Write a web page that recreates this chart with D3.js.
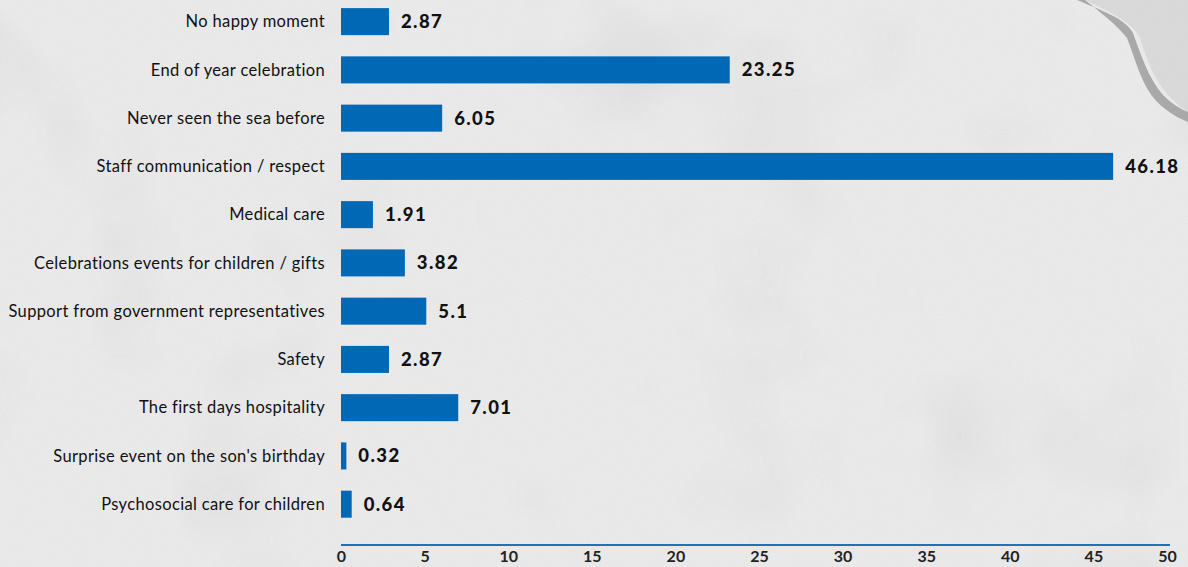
<!DOCTYPE html>
<html>
<head>
<meta charset="utf-8">
<script src="https://cdn.jsdelivr.net/npm/d3@7"></script>
<style>
  html, body { margin: 0; padding: 0; background: #e8e8e8; }
  svg { display: block; }
</style>
</head>
<body>
<svg id="chart" width="1188" height="567"></svg>
<script>
const categories = [
  "No happy moment",
  "End of year celebration",
  "Never seen the sea before",
  "Staff communication / respect",
  "Medical care",
  "Celebrations events for children / gifts",
  "Support from government representatives",
  "Safety",
  "The first days hospitality",
  "Surprise event on the son's birthday",
  "Psychosocial care for children"
];
const values = [2.87, 23.25, 6.05, 46.18, 1.91, 3.82, 5.1, 2.87, 7.01, 0.32, 0.64];
const valueLabels = ["2.87", "23.25", "6.05", "46.18", "1.91", "3.82", "5.1", "2.87", "7.01", "0.32", "0.64"];
const xTicks = [0, 5, 10, 15, 20, 25, 30, 35, 40, 45, 50];

const W = 1188, H = 567;
const svg = d3.select("#chart");

// textured grey background
const defs = svg.append("defs");
const f = defs.append("filter").attr("id", "tex").attr("x", 0).attr("y", 0).attr("width", "100%").attr("height", "100%");
f.append("feTurbulence").attr("type", "fractalNoise").attr("baseFrequency", 0.9).attr("numOctaves", 2).attr("seed", 3).attr("result", "n");
f.append("feColorMatrix").attr("type", "matrix")
  .attr("values", "0 0 0 0 0.5  0 0 0 0 0.5  0 0 0 0 0.5  0 0 0 0.35 0");
const f2 = defs.append("filter").attr("id", "blot").attr("x", 0).attr("y", 0).attr("width", "100%").attr("height", "100%");
f2.append("feTurbulence").attr("type", "fractalNoise").attr("baseFrequency", 0.006).attr("numOctaves", 3).attr("seed", 7);
f2.append("feColorMatrix").attr("type", "matrix")
  .attr("values", "0 0 0 0 0.55  0 0 0 0 0.55  0 0 0 0 0.55  0 0 0 -1.2 0.55");

svg.append("rect").attr("width", W).attr("height", H).attr("fill", "#ececec");
svg.append("rect").attr("width", W).attr("height", H).attr("filter", "url(#blot)").attr("opacity", 0.6);
svg.append("rect").attr("width", W).attr("height", H).attr("filter", "url(#tex)").attr("opacity", 0.4);
// darker area right of the crack
svg.append("path")
  .attr("d", "M1085,0 C1110,12 1132,22 1140,38 C1146,58 1155,82 1170,97 C1178,105 1184,110 1188,111 L1188,0 Z")
  .attr("fill", "#d2d2d2").attr("opacity", 0.7);
// dark crack at top right
svg.append("path")
  .attr("d", "M1077,0 C1100,10 1125,18 1133,33 C1140,52 1148,78 1163,95 C1172,104 1182,110 1188,112 L1188,122 C1178,118 1163,110 1152,96 C1140,80 1134,55 1127,38 C1118,26 1100,12 1085,0 Z")
  .attr("fill", "#9e9e9e").attr("opacity", 0.85);

const x = d3.scaleLinear().domain([0, 50]).range([341, 1177]);
const y = d3.scaleBand().domain(categories).range([-2.5, 528.3]).paddingInner(0.44).paddingOuter(0.22);

const data = categories.map((c, i) => ({ c, v: values[i], l: valueLabels[i] }));

svg.append("g").selectAll("rect").data(data).join("rect")
  .attr("x", x(0))
  .attr("y", d => y(d.c))
  .attr("width", d => x(d.v) - x(0))
  .attr("height", y.bandwidth())
  .attr("fill", "#0068b5");

svg.append("g").selectAll("text").data(data).join("text")
  .attr("x", 325)
  .attr("y", d => y(d.c) + y.bandwidth() / 2)
  .attr("dy", "0.35em")
  .attr("text-anchor", "end")
  .attr("font-family", "Lato, 'Open Sans', sans-serif")
  .attr("font-size", 16.5)
  .attr("letter-spacing", 0.35)
  .attr("fill", "#111")
  .text(d => d.c);

svg.append("g").selectAll("text").data(data).join("text")
  .attr("x", d => x(d.v) + 12)
  .attr("y", d => y(d.c) + y.bandwidth() / 2)
  .attr("dy", "0.35em")
  .attr("font-family", "Lato, 'Open Sans', sans-serif")
  .attr("font-weight", "900")
  .attr("font-size", 18.5)
  .attr("letter-spacing", 1.4)
  .attr("fill", "#111")
  .text(d => d.l);

const axis = d3.axisBottom(x).tickValues(xTicks).tickSize(0).tickPadding(6).tickFormat(d3.format("d"));
const gx = svg.append("g").attr("transform", "translate(0,545)").call(axis);
gx.select(".domain").attr("stroke", "#1a73bf").attr("stroke-width", 2).attr("d", `M${x(0)},0H1170`);
gx.selectAll("text")
  .attr("font-family", "Lato, 'Open Sans', sans-serif")
  .attr("font-weight", "bold")
  .attr("font-size", 16)
  .attr("fill", "#222")
  .attr("dx", (d, i) => d === 50 ? -10 : 0);
</script>
</body>
</html>
